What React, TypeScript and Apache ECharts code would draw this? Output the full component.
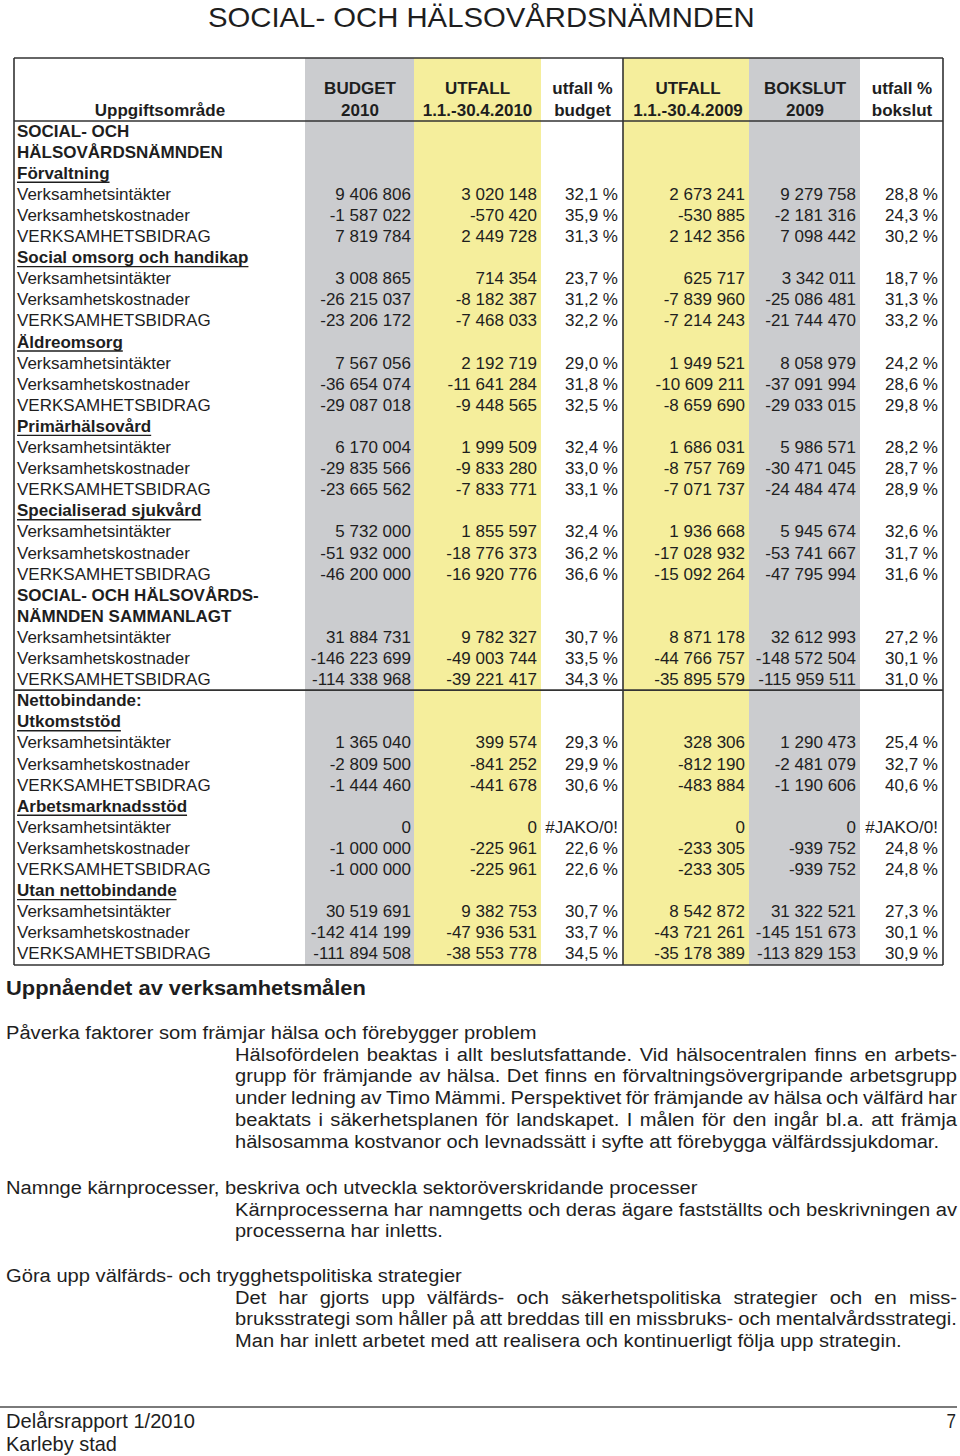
import React, { useEffect, useRef } from 'react';
import * as echarts from 'echarts';

const FONT = '"Liberation Sans", Arial, Helvetica, sans-serif';

const pageTitle = 'SOCIAL- OCH HÄLSOVÅRDSNÄMNDEN';
const firstColHead = 'Uppgiftsområde';
const columnHeads = [
  ['BUDGET', '2010'],
  ['UTFALL', '1.1.-30.4.2010'],
  ['utfall %', 'budget'],
  ['UTFALL', '1.1.-30.4.2009'],
  ['BOKSLUT', '2009'],
  ['utfall %', 'bokslut'],
];

// heading lines for each group: [text, 'b' = bold, 'u' = bold underlined]
const groupHeads: [string, string][][] = [
  [['SOCIAL- OCH', 'b'], ['HÄLSOVÅRDSNÄMNDEN', 'b'], ['Förvaltning', 'u']],
  [['Social omsorg och handikap', 'u']],
  [['Äldreomsorg', 'u']],
  [['Primärhälsovård', 'u']],
  [['Specialiserad sjukvård', 'u']],
  [['SOCIAL- OCH HÄLSOVÅRDS-', 'b'], ['NÄMNDEN SAMMANLAGT', 'b']],
  [['Nettobindande:', 'b'], ['Utkomststöd', 'u']],
  [['Arbetsmarknadsstöd', 'u']],
  [['Utan nettobindande', 'u']],
];
const measureLabels = ['Verksamhetsintäkter', 'Verksamhetskostnader', 'VERKSAMHETSBIDRAG'];

const budget2010 = [
  9406806, -1587022, 7819784,
  3008865, -26215037, -23206172,
  7567056, -36654074, -29087018,
  6170004, -29835566, -23665562,
  5732000, -51932000, -46200000,
  31884731, -146223699, -114338968,
  1365040, -2809500, -1444460,
  0, -1000000, -1000000,
  30519691, -142414199, -111894508,
];
const utfall2010 = [
  3020148, -570420, 2449728,
  714354, -8182387, -7468033,
  2192719, -11641284, -9448565,
  1999509, -9833280, -7833771,
  1855597, -18776373, -16920776,
  9782327, -49003744, -39221417,
  399574, -841252, -441678,
  0, -225961, -225961,
  9382753, -47936531, -38553778,
];
const pctBudget: (number | null)[] = [
  32.1, 35.9, 31.3,
  23.7, 31.2, 32.2,
  29.0, 31.8, 32.5,
  32.4, 33.0, 33.1,
  32.4, 36.2, 36.6,
  30.7, 33.5, 34.3,
  29.3, 29.9, 30.6,
  null, 22.6, 22.6,
  30.7, 33.7, 34.5,
];
const utfall2009 = [
  2673241, -530885, 2142356,
  625717, -7839960, -7214243,
  1949521, -10609211, -8659690,
  1686031, -8757769, -7071737,
  1936668, -17028932, -15092264,
  8871178, -44766757, -35895579,
  328306, -812190, -483884,
  0, -233305, -233305,
  8542872, -43721261, -35178389,
];
const bokslut2009 = [
  9279758, -2181316, 7098442,
  3342011, -25086481, -21744470,
  8058979, -37091994, -29033015,
  5986571, -30471045, -24484474,
  5945674, -53741667, -47795994,
  32612993, -148572504, -115959511,
  1290473, -2481079, -1190606,
  0, -939752, -939752,
  31322521, -145151673, -113829153,
];
const pctBokslut: (number | null)[] = [
  28.8, 24.3, 30.2,
  18.7, 31.3, 33.2,
  24.2, 28.6, 29.8,
  28.2, 28.7, 28.9,
  32.6, 31.7, 31.6,
  27.2, 30.1, 31.0,
  25.4, 32.7, 40.6,
  null, 24.8, 24.8,
  27.3, 30.1, 30.9,
];

const sectionTitle = 'Uppnåendet av verksamhetsmålen';
const paragraphs: { head: string; lines: string[] }[] = [
  {
    head: 'Påverka faktorer som främjar hälsa och förebygger problem',
    lines: [
      'Hälsofördelen beaktas i allt beslutsfattande. Vid hälsocentralen finns en arbets-',
      'grupp för främjande av hälsa. Det finns en förvaltningsövergripande arbetsgrupp',
      'under ledning av Timo Mämmi. Perspektivet för främjande av hälsa och välfärd har',
      'beaktats i säkerhetsplanen för landskapet. I målen för den ingår bl.a. att främja',
      'hälsosamma kostvanor och levnadssätt i syfte att förebygga välfärdssjukdomar.',
    ],
  },
  {
    head: 'Namnge kärnprocesser, beskriva och utveckla sektoröverskridande processer',
    lines: [
      'Kärnprocesserna har namngetts och deras ägare fastställts och beskrivningen av',
      'processerna har inletts.',
    ],
  },
  {
    head: 'Göra upp välfärds- och trygghetspolitiska strategier',
    lines: [
      'Det har gjorts upp välfärds- och säkerhetspolitiska strategier och en miss-',
      'bruksstrategi som håller på att breddas till en missbruks- och mentalvårdsstrategi.',
      'Man har inlett arbetet med att realisera och kontinuerligt följa upp strategin.',
    ],
  },
];
const footerLines = ['Delårsrapport 1/2010', 'Karleby stad'];
const pageNumber = '7';

function fmtInt(n: number): string {
  const s = Math.abs(n).toString().replace(/\B(?=(\d{3})+(?!\d))/g, ' ');
  return (n < 0 ? '-' : '') + s;
}
function fmtPct(p: number | null): string {
  if (p === null) return '#JAKO/0!';
  return p.toFixed(1).replace('.', ',') + ' %';
}

const ctx = document.createElement('canvas').getContext('2d') as CanvasRenderingContext2D;
function measure(text: string, size: number, weight = 'normal'): number {
  ctx.font = `${weight} ${size}px ${FONT}`;
  return ctx.measureText(text).width;
}

function buildGraphics(): any[] {
  const els: any[] = [];
  const TXT = '#1e1e1e';
  const text = (t: string, x: number, y: number, size: number, opts: any = {}) => {
    els.push({
      type: 'text',
      x,
      y,
      z: 3,
      scaleX: opts.scaleX ?? 1,
      silent: true,
      style: {
        text: t,
        fill: TXT,
        fontSize: size,
        fontFamily: FONT,
        fontWeight: opts.weight ?? 'normal',
        align: opts.align ?? 'left',
        verticalAlign: 'middle',
      },
    });
  };
  const fitText = (t: string, x: number, xEnd: number, y: number, size: number, weight = 'normal') => {
    const w = measure(t, size, weight);
    text(t, x, y, size, { weight, scaleX: (xEnd - x) / w });
  };
  const line = (x1: number, y1: number, x2: number, y2: number, w: number, color = '#333', z = 2) => {
    els.push({ type: 'line', z, silent: true, shape: { x1, y1, x2, y2 }, style: { stroke: color, lineWidth: w } });
  };
  const rect = (x: number, y: number, w: number, h: number, fill: string) => {
    els.push({ type: 'rect', z: 0, silent: true, shape: { x, y, width: w, height: h }, style: { fill } });
  };

  // Title (condensed look)
  fitText(pageTitle, 208, 755, 17, 28);

  // Table geometry
  const top = 58;
  const bottom = 965;
  const left = 14;
  const right = 943;
  const GRAY = '#cbcccf';
  const YELLOW = '#f5ee9c';
  rect(305, top, 109, bottom - top, GRAY);
  rect(414, top, 127, bottom - top, YELLOW);
  rect(623, top, 126, bottom - top, YELLOW);
  rect(749, top, 111, bottom - top, GRAY);

  line(left, top, right, top, 1.6);
  line(left, bottom, right, bottom, 1.6);
  line(left, top, left, bottom, 1.6);
  line(right, top, right, bottom, 1.6);
  line(623, top, 623, bottom, 1.6);
  line(left, 121, right, 121, 1.6);

  // Headers
  const colCenters = [360, 477.5, 582.5, 688, 805, 902];
  const colRights = [411, 537, 618, 745, 856, 938];
  text(firstColHead, 160, 110, 17, { weight: 'bold', align: 'center' });
  columnHeads.forEach((h, i) => {
    text(h[0], colCenters[i], 88, 17, { weight: 'bold', align: 'center' });
    text(h[1], colCenters[i], 110, 17, { weight: 'bold', align: 'center' });
  });

  // Body rows
  const rowH = 21.1;
  let r = 0;
  let d = 0;
  const labelX = 17;
  groupHeads.forEach((heads, g) => {
    heads.forEach(([t, kind]) => {
      const y = 131 + r * rowH;
      text(t, labelX, y, 17, { weight: 'bold' });
      if (kind === 'u') {
        const w = measure(t, 17, 'bold');
        line(labelX, y + 9, labelX + w, y + 9, 1.4, '#1e1e1e', 3);
      }
      r++;
    });
    measureLabels.forEach((lab) => {
      const y = 131 + r * rowH;
      text(lab, labelX, y, 17);
      const vals = [
        fmtInt(budget2010[d]),
        fmtInt(utfall2010[d]),
        fmtPct(pctBudget[d]),
        fmtInt(utfall2009[d]),
        fmtInt(bokslut2009[d]),
        fmtPct(pctBokslut[d]),
      ];
      vals.forEach((v, c) => text(v, colRights[c], y, 17, { align: 'right' }));
      r++;
      d++;
    });
    if (g === 5) {
      const yl = 131 + (r - 1) * rowH + 10.5;
      line(left, yl, right, yl, 1.6);
    }
  });

  // Section text below table
  fitText(sectionTitle, 6, 366, 988, 21, 'bold');

  const bodySize = 19;
  const bodyScale = 1.06;
  const x0 = 235;
  const x1 = 957;
  const headYs = [1032, 1187, 1275];
  const headEnds = [537, 698, 462];
  const lastEnds = [940, 443, 902];
  paragraphs.forEach((p, pi) => {
    const hy = headYs[pi];
    fitText(p.head, 6, headEnds[pi], hy, bodySize);
    p.lines.forEach((ln, li) => {
      const y = hy + (li + 1) * 21.8;
      const isLast = li === p.lines.length - 1;
      if (isLast) {
        fitText(ln, x0, lastEnds[pi], y, bodySize);
      } else {
        const words = ln.split(' ');
        const widths = words.map((w) => measure(w, bodySize) * bodyScale);
        const sum = widths.reduce((a, b) => a + b, 0);
        const gap = (x1 - x0 - sum) / (words.length - 1);
        let x = x0;
        words.forEach((w, wi) => {
          text(w, x, y, bodySize, { scaleX: bodyScale });
          x += widths[wi] + gap;
        });
      }
    });
  });

  // Footer
  line(0, 1407, 957, 1407, 2.2, '#7a7a7a');
  fitText(footerLines[0], 6, 195, 1421, 20);
  fitText(footerLines[1], 6, 117, 1444, 20);
  text(pageNumber, 956, 1421, 20, { align: 'right', scaleX: 0.85 });

  return els;
}

export default function App() {
  const ref = useRef<HTMLDivElement>(null);
  useEffect(() => {
    if (!ref.current) return;
    const chart = echarts.init(ref.current, null, { renderer: 'svg' });
    chart.setOption({
      animation: false,
      backgroundColor: '#ffffff',
      graphic: { elements: buildGraphics() },
    });
    return () => chart.dispose();
  }, []);
  return (
    <div
      ref={ref}
      style={{ position: 'absolute', left: 0, top: 0, width: 960, height: 1456, background: '#fff' }}
    />
  );
}
